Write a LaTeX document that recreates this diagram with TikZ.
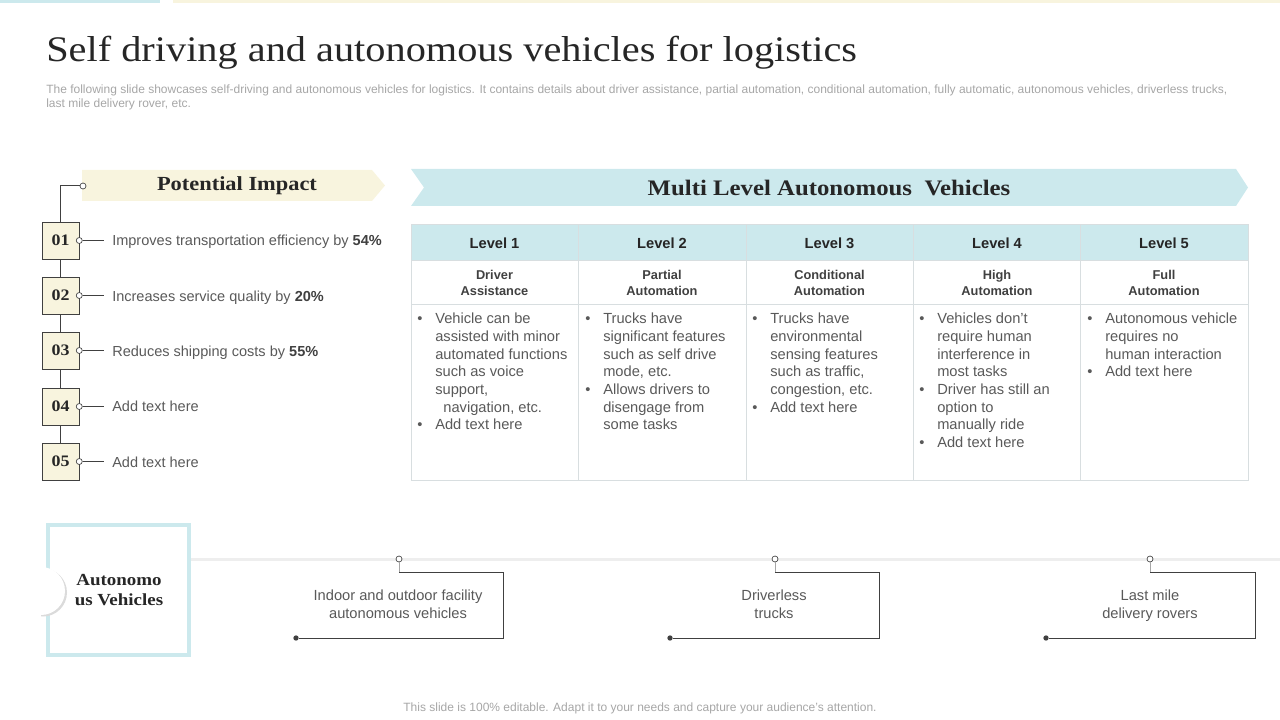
\documentclass[tikz,border=0pt]{standalone}
\usepackage{fontspec}
\setmainfont{Liberation Serif}
\setsansfont{Liberation Sans}
\newfontfamily\headserif[FakeStretch=1.12]{Liberation Serif}
\usepackage{tikz}
\usetikzlibrary{positioning,shadows}
\usepackage{xcolor}
\definecolor{slcream}{RGB}{248,244,222}
\definecolor{slblue}{RGB}{204,233,237}
\definecolor{sldark}{RGB}{38,38,38}
\definecolor{slgray}{RGB}{89,89,89}
\definecolor{slbold}{RGB}{64,64,64}
\definecolor{sllight}{RGB}{166,166,166}
\definecolor{slline}{RGB}{64,64,64}
\definecolor{slgrid}{RGB}{216,222,224}
\definecolor{slrule}{RGB}{238,238,238}
\tikzstyle{numbox} = [rectangle, minimum width=27.75pt, minimum height=27.75pt, inner sep=0pt, draw=slline, fill=slcream, font=\headserif\bfseries\fontsize{12}{12}\selectfont, text=sldark]
\tikzstyle{impact} = [anchor=base west, inner sep=0pt, font=\sffamily\fontsize{10.9}{12}\selectfont, text=slgray]
\tikzstyle{ring} = [circle, draw=slline, fill=white, inner sep=0pt, minimum size=4.5pt, line width=0.5pt]
\tikzstyle{dot} = [circle, fill=slline, inner sep=0pt, minimum size=4pt]
\tikzstyle{level} = [text height=8pt, text depth=2pt, font=\sffamily\bfseries\fontsize{11}{12}\selectfont, text=sldark]
\tikzstyle{sublevel} = [align=center, font=\sffamily\bfseries\fontsize{9.6}{12}\selectfont, text=slbold]
\tikzstyle{cell} = [anchor=north west, inner sep=0pt, align=left, font=\sffamily\fontsize{11}{13.25}\selectfont, text=slgray]
\tikzstyle{callout} = [align=center, font=\sffamily\fontsize{11}{13.5}\selectfont, text=slgray]
\tikzstyle{link} = [line width=0.75pt, color=slline]
\newcommand{\bul}{\makebox[13.5pt][l]{\textbullet}}
\newcommand{\ind}{\hspace*{13.5pt}}

\begin{document}
\begin{tikzpicture}[x=0.75pt, y=-0.75pt]
\useasboundingbox (0,0) rectangle (1280,720);
% top bars
\fill[slblue] (0,0) rectangle (160,3);
\fill[slcream] (173,0) rectangle (1280,3);
% title
\node (title) [anchor=base west, inner sep=0pt, font=\headserif\fontsize{27}{30}\selectfont, text=sldark] at (46,62) {Self driving and autonomous vehicles for logistics};
\node (intro) [anchor=north west, inner sep=0pt, align=left, font=\sffamily\fontsize{9}{10.5}\selectfont, text=sllight] at (46,85) {The following slide showcases self-driving and autonomous vehicles for logistics. It contains details about driver assistance, partial automation, conditional automation, fully automatic, autonomous vehicles, driverless trucks,\\last mile delivery rover,  etc.};

% potential impact
\fill[slcream] (82,170) -- (372,170) -- (385,185.5) -- (372,201) -- (82,201) -- cycle;
\node (impacthead) [font=\headserif\bfseries\fontsize{15}{16}\selectfont, text=sldark] at (237,186) {Potential Impact};
\node (headring) [ring] at (83,186) {};
\node (num1) [numbox] at (60.5,240.5) {01};
\node (num2) [numbox] at (60.5,295.5) {02};
\node (num3) [numbox] at (60.5,350.5) {03};
\node (num4) [numbox] at (60.5,406.5) {04};
\node (num5) [numbox] at (60.5,461.5) {05};
\draw [link] (headring.west) -| (num1.north);
\draw [link] (num1) -- (num2);
\draw [link] (num2) -- (num3);
\draw [link] (num3) -- (num4);
\draw [link] (num4) -- (num5);
\node (imp1) [impact] at (112,245) {Improves transportation efficiency by \textcolor{slbold}{\textbf{54\%}}};
\node (imp2) [impact] at (112,301) {Increases service quality by \textcolor{slbold}{\textbf{20\%}}};
\node (imp3) [impact] at (112,356) {Reduces shipping costs by \textcolor{slbold}{\textbf{55\%}}};
\node (imp4) [impact] at (112,411) {Add text here};
\node (imp5) [impact] at (112,467) {Add text here};
\node (ring1) [ring] at (num1.east) {};
\node (ring2) [ring] at (num2.east) {};
\node (ring3) [ring] at (num3.east) {};
\node (ring4) [ring] at (num4.east) {};
\node (ring5) [ring] at (num5.east) {};
\draw [link] (ring1) -- (104,240.5);
\draw [link] (ring2) -- (104,295.5);
\draw [link] (ring3) -- (104,350.5);
\draw [link] (ring4) -- (104,406.5);
\draw [link] (ring5) -- (104,461.5);

% multi level banner
\fill[slblue] (411,169) -- (1236,169) -- (1248,187.5) -- (1236,206) -- (411,206) -- (424,187.5) -- cycle;
\node (levelhead) [font=\headserif\bfseries\fontsize{16.6}{18}\selectfont, text=sldark] at (829,188) {Multi Level Autonomous\ \ Vehicles};

% table
\fill[slblue] (411,225) rectangle (1248,260);
\draw[slgrid, line width=0.75pt] (411,225) rectangle (1248,480);
\draw[slgrid, line width=0.75pt] (411,260) -- (1248,260);
\draw[slgrid, line width=0.75pt] (411,304) -- (1248,304);
\draw[slgrid, line width=0.75pt] (578.5,225) -- (578.5,480);
\draw[slgrid, line width=0.75pt] (746,225) -- (746,480);
\draw[slgrid, line width=0.75pt] (913,225) -- (913,480);
\draw[slgrid, line width=0.75pt] (1080.5,225) -- (1080.5,480);
\node (lvl1) [level] at (494.5,244) {Level 1};
\node (lvl2) [level] at (662,244) {Level 2};
\node (lvl3) [level] at (829.5,244) {Level 3};
\node (lvl4) [level] at (997,244) {Level 4};
\node (lvl5) [level] at (1164,244) {Level 5};
\node (sub1) [sublevel] at (494.5,283) {Driver\\Assistance};
\node (sub2) [sublevel] at (662,283) {Partial\\Automation};
\node (sub3) [sublevel] at (829.5,283) {Conditional\\Automation};
\node (sub4) [sublevel] at (997,283) {High\\Automation};
\node (sub5) [sublevel] at (1164,283) {Full\\Automation};
\node (body1) [cell] at (417,313) {\bul Vehicle can be\\\ind assisted with minor\\\ind automated functions\\\ind such as voice\\\ind support,\\\ind\ \ navigation,  etc.\\\bul Add text here};
\node (body2) [cell] at (585,313) {\bul Trucks have\\\ind significant features\\\ind such as self drive\\\ind mode, etc.\\\bul Allows drivers to\\\ind disengage from\\\ind some tasks};
\node (body3) [cell] at (752,313) {\bul Trucks have\\\ind environmental\\\ind sensing features\\\ind such as traffic,\\\ind congestion, etc.\\\bul Add text here};
\node (body4) [cell] at (919,313) {\bul Vehicles don't\\\ind require human\\\ind interference in\\\ind most tasks\\\bul Driver has still an\\\ind option to\\\ind manually ride\\\bul Add text here};
\node (body5) [cell] at (1087,313) {\bul Autonomous vehicle\\\ind requires no\\\ind human interaction\\\bul Add text here};

% autonomous vehicles
\draw[slrule, line width=2.25pt] (190,559) -- (1280,559);
\draw[slblue, line width=2.5pt] (48,525) rectangle (189,655);
\begin{scope}
\clip (41,560) rectangle (80,625);
\fill[black!14] (43,592.5) circle (18pt);
\end{scope}
\fill[white] (41,591) circle (18pt);
\node (avtitle) [align=center, font=\headserif\bfseries\fontsize{12.7}{15}\selectfont, text=sldark] at (119,590) {Autonomo\\us Vehicles};

\node (cring1) [ring] at (399,559) {};
\node (cring2) [ring] at (775,559) {};
\node (cring3) [ring] at (1150,559) {};
\node (cdot1) [dot] at (296,638) {};
\node (cdot2) [dot] at (670,638) {};
\node (cdot3) [dot] at (1046,638) {};
\coordinate (ctop1) at (399,572);
\coordinate (ctop2) at (775,572);
\coordinate (ctop3) at (1150,572);
\draw[sllight, line width=0.4pt] (cring1) -- (ctop1);
\draw[sllight, line width=0.4pt] (cring2) -- (ctop2);
\draw[sllight, line width=0.4pt] (cring3) -- (ctop3);
\draw[link] (ctop1) -- (503,572) -- (503,638) -- (cdot1);
\draw[link] (ctop2) -- (879,572) -- (879,638) -- (cdot2);
\draw[link] (ctop3) -- (1255,572) -- (1255,638) -- (cdot3);
\node (ctext1) [callout] at (398,606) {\strut Indoor and outdoor facility\\autonomous vehicles\strut};
\node (ctext2) [callout] at (774,606) {\strut Driverless\\trucks\strut};
\node (ctext3) [callout] at (1150,606) {\strut Last mile\\delivery  rovers\strut};

\node (footer) [font=\sffamily\fontsize{9}{10}\selectfont, text=sllight] at (640,708) {This slide is 100\% editable. Adapt it to your needs and capture your audience's attention.};
\end{tikzpicture}
\end{document}
